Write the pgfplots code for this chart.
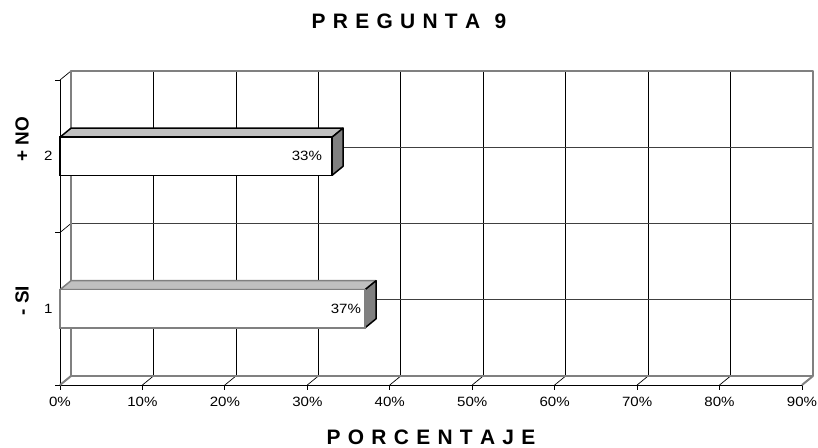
\documentclass[border=0pt]{standalone}
\usepackage{pgfplots}
\pgfplotsset{compat=1.18}
\usepackage{fontspec}
\setmainfont{Liberation Sans}
\newfontfamily\widefont[FakeStretch=1.12]{Liberation Sans}
\newcommand{\tickfont}{\widefont\fontsize{13.5}{15}\selectfont}

\definecolor{wallgray}{HTML}{808080}
\definecolor{topgray}{HTML}{C0C0C0}
\definecolor{gridgray}{HTML}{404040}

% depth offset of the pseudo-3D walls
\tikzset{back/.style={shift={(11bp,9bp)}}}

\begin{document}
\begin{tikzpicture}
\useasboundingbox (-60bp,-63bp) rectangle (758bp,385bp);
\begin{axis}[
  at={(0,0)}, anchor=south west,
  scale only axis, width=742bp, height=305bp,
  xmin=0, xmax=90, ymin=0.5, ymax=2.5,
  clip=false,
  axis x line*=bottom, axis y line*=left,
  axis line style={black, line width=0.8bp},
  xtick={0,10,20,30,40,50,60,70,80,90},
  xticklabels={0\%,10\%,20\%,30\%,40\%,50\%,60\%,70\%,80\%,90\%},
  xticklabel style={yshift=-4bp},
  ytick={0.5,1.5,2.5}, yticklabels={},
  extra y ticks={1,2}, extra y tick labels={1,2},
  extra y tick style={major tick length=0pt, yticklabel style={xshift=-4bp}},
  tick align=outside, major tick length=4.5bp,
  tick style={black, line width=0.8bp},
  every tick label/.append style={font=\tickfont},
]
% back wall grid
\pgfplotsinvokeforeach{10,20,30,40,50,60,70,80}{
  \draw[black, line width=0.7bp] ([back]axis cs:#1,0.5) -- ([back]axis cs:#1,2.5);
  \draw[black, line width=0.7bp] (axis cs:#1,0.5) -- ([back]axis cs:#1,0.5);
}
\pgfplotsinvokeforeach{1,1.5,2}{
  \draw[gridgray, line width=0.8bp] ([back]axis cs:0,#1) -- ([back]axis cs:90,#1);
}
% side wall ticks
\pgfplotsinvokeforeach{1.5,2.5}{
  \draw[black, line width=0.7bp] (axis cs:0,#1) -- ([back]axis cs:0,#1);
}
% wall frame
\draw[wallgray, line width=2bp, line join=round]
  ([back]axis cs:0,0.5) rectangle ([back]axis cs:90,2.5);
\draw[wallgray, line width=2bp] (axis cs:0,0.5) -- ([back]axis cs:0,0.5);
\draw[wallgray, line width=2bp] (axis cs:90,0.5) -- ([back]axis cs:90,0.5);

% bar "1": 37 %
\addplot[fill=topgray, draw=wallgray, line width=1.5bp, line join=round, mark=none, forget plot]
  coordinates {(0,1.125) (37,1.125) (38.334,1.184) (1.334,1.184)} -- cycle;
\addplot[fill=wallgray, draw=black, line width=1.5bp, line join=round, mark=none, forget plot]
  coordinates {(37,0.875) (38.334,0.934) (38.334,1.184) (37,1.125)} -- cycle;
\addplot[xbar, bar shift=0pt, bar width=0.25, fill=white, draw=wallgray, line width=1.5bp,
  point meta=x,
  nodes near coords={\tickfont\pgfmathprintnumber[assume math mode=true]{\pgfplotspointmeta}\%},
  every node near coord/.append style={anchor=east, xshift=0bp, text=black}]
  coordinates {(37,1)};

% bar "2": 33 %
\addplot[fill=topgray, draw=black, line width=1.5bp, line join=round, mark=none, forget plot]
  coordinates {(0,2.125) (33,2.125) (34.334,2.184) (1.334,2.184)} -- cycle;
\addplot[fill=wallgray, draw=black, line width=1.5bp, line join=round, mark=none, forget plot]
  coordinates {(33,1.875) (34.334,1.934) (34.334,2.184) (33,2.125)} -- cycle;
\addplot[xbar, bar shift=0pt, bar width=0.25, fill=white, draw=black, line width=1.5bp,
  point meta=x,
  nodes near coords={\tickfont\pgfmathprintnumber[assume math mode=true]{\pgfplotspointmeta}\%},
  every node near coord/.append style={anchor=east, xshift=-6bp, text=black}]
  coordinates {(33,2)};
\end{axis}

\node[font=\fontsize{21}{24}\selectfont\bfseries] at (349bp,364bp)
  {\spaceskip=7.3bp\relax P R E G U N T A \ 9};
\node[font=\fontsize{21}{24}\selectfont\bfseries] at (371bp,-52bp)
  {\spaceskip=7.3bp\relax P O R C E N T A J E};
\node[font=\fontsize{19}{22}\selectfont\bfseries, rotate=90, anchor=west] at (-38bp,220bp) {+ NO};
\node[font=\fontsize{19}{22}\selectfont\bfseries, rotate=90, anchor=west] at (-38bp,66bp) {- SI};
\end{tikzpicture}
\end{document}
